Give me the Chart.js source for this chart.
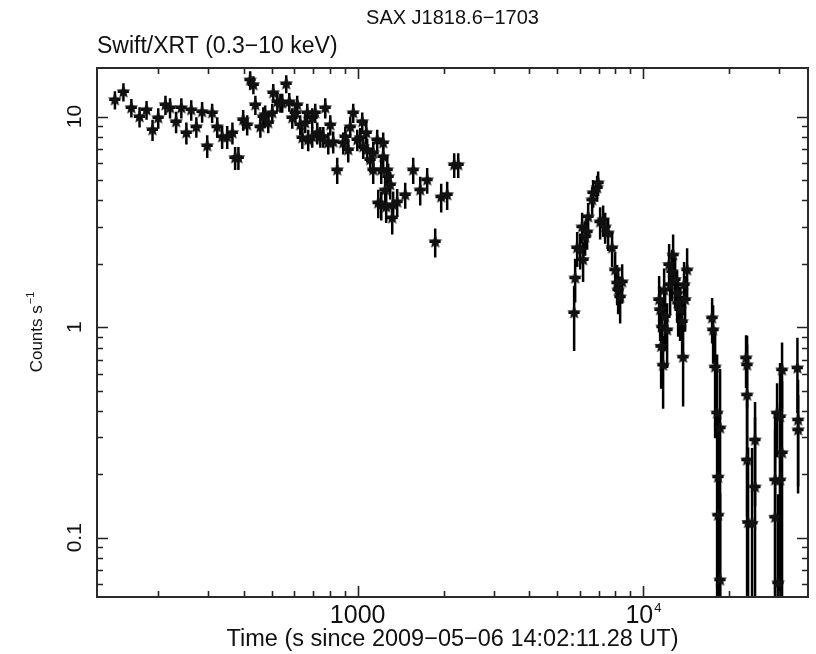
<!DOCTYPE html>
<html>
<head>
<meta charset="utf-8">
<script src="https://cdn.jsdelivr.net/npm/chart.js@4.4.1/dist/chart.umd.min.js"></script>
<style>
html,body{margin:0;padding:0;background:#fff;}
#wrap{width:816px;height:654px;position:relative;}
</style>
</head>
<body>
<div id="wrap"><canvas id="c" width="816" height="654"></canvas></div>
<script>
// ---------------- text ----------------
const chartTitle = "SAX J1818.6\u22121703";
const chartSubtitle = "Swift/XRT (0.3\u221210 keV)";
const xAxisTitle = "Time (s since 2009\u221205\u221206 14:02:11.28 UT)";
const yAxisTitleMain = "Counts s";
const yAxisTitleSup = "\u22121";

// ---------------- axes ----------------
const X_MIN = 122, X_MAX = 37900;
const Y_MIN = 0.0523, Y_MAX = 17.0;
const xMajorTicks = [1000, 10000];
const xTickMain = ["1000", "10"];
const xTickSup = ["", "4"];
const yMajorTicks = [0.1, 1, 10];
const yTickLabels = ["0.1", "1", "10"];
const X_ERR_FRAC = 0.045; // half bin width (fraction of time)

// ---------------- data: segment 1 (first orbit) ----------------
const time1 = [141,151,161,172,182,191,200,212,220,231,241,251,261,272,285,297,309,322,335,349,
  364,372,382,397,410,420,431,438,456,467,474,486,502,506,523,536,544,562,576,590,
  605,614,629,640,655,666,671,693,693,710,722,740,758,770,789,802,821,848,890,905,
  927,942,965,997,1021,1038,1046,1072,1080,1107,1134,1134,1171,1181,1210,1210,1229,1229,1249,1259,
  1270,1280,1301,1322,1332,1376,1468,1566,1657,1753,1870,1963,2060,2180,2252];
const rate1 = [12.0,13.1,11.0,9.97,10.76,8.65,9.86,11.36,11.0,9.44,11.0,8.37,10.76,8.93,10.53,7.26,10.41,8.93,8.01,8.01,
  8.37,6.37,6.37,9.65,9.13,14.9,14.15,11.36,8.93,9.97,10.19,9.33,10.41,12.96,11.74,11.62,11.62,14.3,11.74,9.86,
  10.41,11.36,9.13,7.92,9.33,10.41,7.75,9.86,8.01,10.41,8.37,8.01,8.01,11.0,7.50,9.13,7.58,5.58,7.50,8.01,
  6.95,8.93,10.41,7.75,7.92,9.44,7.18,8.37,6.95,6.23,5.58,6.72,7.75,3.89,3.81,5.58,7.50,6.44,4.48,3.72,
  5.58,5.17,4.74,3.30,3.81,3.93,4.25,5.58,4.48,5.00,2.54,4.15,4.25,5.90,5.90];
const err1 = [1.2,1.3,1.1,1.1,1.1,1.0,1.1,1.2,1.2,1.1,1.2,1.0,1.2,1.0,1.2,0.9,1.1,1.0,1.0,1.0,
  1.0,0.8,0.8,1.1,1.0,1.5,1.4,1.2,1.0,1.1,1.1,1.0,1.1,1.3,1.2,1.2,1.2,1.4,1.2,1.1,
  1.1,1.2,1.0,0.9,1.0,1.1,0.9,1.1,0.9,1.1,1.0,0.9,0.9,1.2,0.9,1.0,0.9,0.8,0.9,0.9,
  0.9,1.0,1.1,0.9,0.9,1.0,0.9,1.0,0.9,0.8,0.8,0.9,0.9,0.6,0.6,0.8,0.9,0.8,0.7,0.6,
  0.8,0.8,0.7,0.55,0.6,0.6,0.6,0.8,0.7,0.7,0.4,0.65,0.65,0.8,0.8];

// ---------------- segment 2 ----------------
const time2 = [5740,5787,5882,6026,6123,6170,6272,6374,6427,6637,6691,6910,6966,7079,7253,7371,7551,7798,7991,8121,8187,8321,8457];
const rate2 = [1.17,1.71,2.38,2.33,2.99,2.09,2.68,2.83,3.34,4.02,4.34,4.59,4.84,3.16,3.23,2.99,2.80,2.38,1.87,1.62,1.50,1.39,1.64];
const err2  = [0.4,0.4,0.45,0.45,0.5,0.45,0.5,0.5,0.55,0.6,0.65,0.65,0.65,0.55,0.55,0.5,0.5,0.45,0.4,0.35,0.35,0.35,0.35];

// ---------------- segment 3 ----------------
const time3 = [11398,11490,11583,11676,11770,11867,11961,12156,12354,12455,12657,12760,12968,13180,13286,13502,13721,13832,13942,14058,14287];
const rate3 = [1.35,1.21,0.81,1.00,0.66,1.50,1.12,0.97,1.98,1.59,1.83,2.20,1.68,1.45,1.30,1.21,1.06,0.72,1.59,1.35,1.87];
const err3  = [0.4,0.35,0.3,0.35,0.25,0.4,0.35,0.33,0.5,0.45,0.5,0.55,0.45,0.4,0.4,0.35,0.35,0.3,0.45,0.4,0.5];

// ---------------- segment 4 ----------------
const time4 = [17480,17620,17906,18197,18345,18345,18642,18642];
const rate4 = [1.106,0.970,0.647,0.391,0.194,0.128,0.332,0.063];
const err4  = [0.27,0.3,0.35,0.35,0.2,0.15,0.3,0.1];

// ---------------- segment 5 ----------------
const time5 = [22990,23180,23180,23180,23370,24130,24720,24720];
const rate5 = [0.714,0.661,0.476,0.234,0.118,0.117,0.291,0.174];
const err5  = [0.2,0.25,0.35,0.25,0.15,0.15,0.15,0.2];

// ---------------- segment 6 ----------------
const time6 = [29060,29060,29530,29770,30250,30250,30740,30740];
const rate6 = [0.188,0.125,0.391,0.061,0.375,0.188,0.626,0.253];
const err6  = [0.2,0.2,0.15,0.1,0.3,0.25,0.22,0.3];

// ---------------- segment 7 ----------------
const time7 = [34800,34980,35000];
const rate7 = [0.640,0.362,0.325];
const err7  = [0.25,0.2,0.15];

// ---------------- build points ----------------
const segments = [
  [time1, rate1, err1], [time2, rate2, err2], [time3, rate3, err3],
  [time4, rate4, err4], [time5, rate5, err5], [time6, rate6, err6], [time7, rate7, err7]
];
const points = [];
segments.forEach(([t, r, e]) => {
  for (let i = 0; i < t.length; i++) {
    points.push({
      x: t[i], y: r[i],
      xl: t[i] * (1 - X_ERR_FRAC), xh: t[i] * (1 + X_ERR_FRAC),
      yl: Math.max(r[i] - e[i], 1e-4), yh: r[i] + e[i]
    });
  }
});

// ---------------- star marker ----------------
function makeStar(size) {
  const c = document.createElement('canvas');
  c.width = size; c.height = size;
  const g = c.getContext('2d');
  const cx = size / 2, cy = size / 2, R = size / 2 - 0.3, r = R * 0.45;
  g.beginPath();
  for (let k = 0; k < 10; k++) {
    const ang = -Math.PI / 2 + k * Math.PI / 5;
    const rad = (k % 2 === 0) ? R : r;
    const px = cx + rad * Math.cos(ang), py = cy + rad * Math.sin(ang);
    if (k === 0) g.moveTo(px, py); else g.lineTo(px, py);
  }
  g.closePath();
  g.fillStyle = '#111';
  g.fill();
  return c;
}
const starImg = makeStar(15);

const FONT = '"Liberation Sans", Arial, Helvetica, sans-serif';

// ---------------- plugins ----------------
const errorBars = {
  id: 'errorBars',
  beforeDatasetsDraw(chart) {
    const {ctx, chartArea: a, scales: {x, y}} = chart;
    ctx.save();
    ctx.beginPath();
    ctx.rect(a.left, a.top, a.right - a.left, a.bottom - a.top);
    ctx.clip();
    ctx.strokeStyle = '#000';
    ctx.lineWidth = 2.5;
    chart.data.datasets[0].data.forEach(p => {
      const px = x.getPixelForValue(p.x), py = y.getPixelForValue(p.y);
      const xl = x.getPixelForValue(p.xl), xh = x.getPixelForValue(p.xh);
      const yl = y.getPixelForValue(p.yl), yh = y.getPixelForValue(p.yh);
      ctx.beginPath();
      ctx.moveTo(xl, py); ctx.lineTo(xh, py);
      ctx.moveTo(px, Math.min(yl, a.bottom + 5)); ctx.lineTo(px, yh);
      ctx.stroke();
    });
    ctx.restore();
  }
};

const frameAndLabels = {
  id: 'frameAndLabels',
  afterDraw(chart) {
    const {ctx, chartArea: a, scales: {x, y}} = chart;
    ctx.save();
    ctx.strokeStyle = '#222';
    ctx.lineWidth = 1.6;
    const MAJ = 11, MIN = 6;
    // x ticks (bottom + top)
    const xTicks = [];
    for (let dec = 100; dec <= 10000; dec *= 10) {
      for (let m = 1; m <= 9; m++) {
        const v = m * dec;
        if (v >= X_MIN && v <= X_MAX) xTicks.push([v, m === 1]);
      }
    }
    ctx.beginPath();
    xTicks.forEach(([v, maj]) => {
      const px = Math.round(x.getPixelForValue(v)) + 0.5;
      const L = maj ? MAJ : MIN;
      ctx.moveTo(px, a.bottom); ctx.lineTo(px, a.bottom - L);
      ctx.moveTo(px, a.top); ctx.lineTo(px, a.top + L);
    });
    // y ticks (left + right)
    const yTicks = [];
    for (let dec = 0.01; dec <= 10; dec *= 10) {
      for (let m = 1; m <= 9; m++) {
        const v = m * dec;
        if (v >= Y_MIN && v <= Y_MAX) yTicks.push([v, m === 1]);
      }
    }
    yTicks.forEach(([v, maj]) => {
      const py = Math.round(y.getPixelForValue(v)) + 0.5;
      const L = maj ? MAJ : MIN;
      ctx.moveTo(a.left, py); ctx.lineTo(a.left + L, py);
      ctx.moveTo(a.right, py); ctx.lineTo(a.right - L, py);
    });
    ctx.stroke();
    // frame
    ctx.lineWidth = 2;
    ctx.strokeStyle = '#2a2a2a';
    ctx.strokeRect(a.left, a.top, a.right - a.left, a.bottom - a.top);

    ctx.fillStyle = '#111';
    // x tick labels
    xMajorTicks.forEach((v, i) => {
      const px = x.getPixelForValue(v);
      ctx.font = '25px ' + FONT;
      const wMain = ctx.measureText(xTickMain[i]).width;
      ctx.font = '13px ' + FONT;
      const wSup = xTickSup[i] ? ctx.measureText(xTickSup[i]).width : 0;
      const total = wMain + wSup;
      ctx.textAlign = 'left';
      ctx.textBaseline = 'alphabetic';
      ctx.font = '25px ' + FONT;
      ctx.fillText(xTickMain[i], px - total / 2, 623);
      if (xTickSup[i]) {
        ctx.font = '13px ' + FONT;
        ctx.fillText(xTickSup[i], px - total / 2 + wMain + 1, 612);
      }
    });
    // y tick labels (rotated)
    yMajorTicks.forEach((v, i) => {
      const py = y.getPixelForValue(v);
      ctx.save();
      ctx.translate(81, py);
      ctx.rotate(-Math.PI / 2);
      ctx.font = '21px ' + FONT;
      ctx.textAlign = 'center';
      ctx.textBaseline = 'alphabetic';
      ctx.fillText(yTickLabels[i], 0, 0);
      ctx.restore();
    });
    // x axis title
    ctx.font = '23.5px ' + FONT;
    ctx.textAlign = 'center';
    ctx.textBaseline = 'alphabetic';
    ctx.fillText(xAxisTitle, (a.left + a.right) / 2, 646);
    // y axis title
    ctx.save();
    ctx.translate(42, (a.top + a.bottom) / 2);
    ctx.rotate(-Math.PI / 2);
    ctx.font = '17px ' + FONT;
    const w1 = ctx.measureText(yAxisTitleMain).width;
    ctx.font = '11px ' + FONT;
    const w2 = ctx.measureText(yAxisTitleSup).width;
    const tot = w1 + w2;
    ctx.textAlign = 'left';
    ctx.font = '17px ' + FONT;
    ctx.fillText(yAxisTitleMain, -tot / 2, 0);
    ctx.font = '11px ' + FONT;
    ctx.fillText(yAxisTitleSup, -tot / 2 + w1 + 1, -8);
    ctx.restore();
    // titles
    ctx.font = '20px ' + FONT;
    ctx.textAlign = 'center';
    ctx.fillText(chartTitle, (a.left + a.right) / 2, 24);
    ctx.font = '23px ' + FONT;
    ctx.textAlign = 'left';
    ctx.fillText(chartSubtitle, a.left, 53);
    ctx.restore();
  }
};

new Chart(document.getElementById('c'), {
  type: 'scatter',
  data: {
    datasets: [{
      data: points,
      pointStyle: starImg,
      pointRadius: 7,
      backgroundColor: '#111',
      borderWidth: 0
    }]
  },
  options: {
    responsive: false,
    animation: false,
    devicePixelRatio: 1,
    events: [],
    layout: { padding: { left: 97, right: 8, top: 68, bottom: 57 } },
    scales: {
      x: { type: 'logarithmic', min: X_MIN, max: X_MAX, display: false },
      y: { type: 'logarithmic', min: Y_MIN, max: Y_MAX, display: false }
    },
    plugins: {
      legend: { display: false },
      tooltip: { enabled: false },
      title: { display: false }
    }
  },
  plugins: [errorBars, frameAndLabels]
});
</script>
</body>
</html>
